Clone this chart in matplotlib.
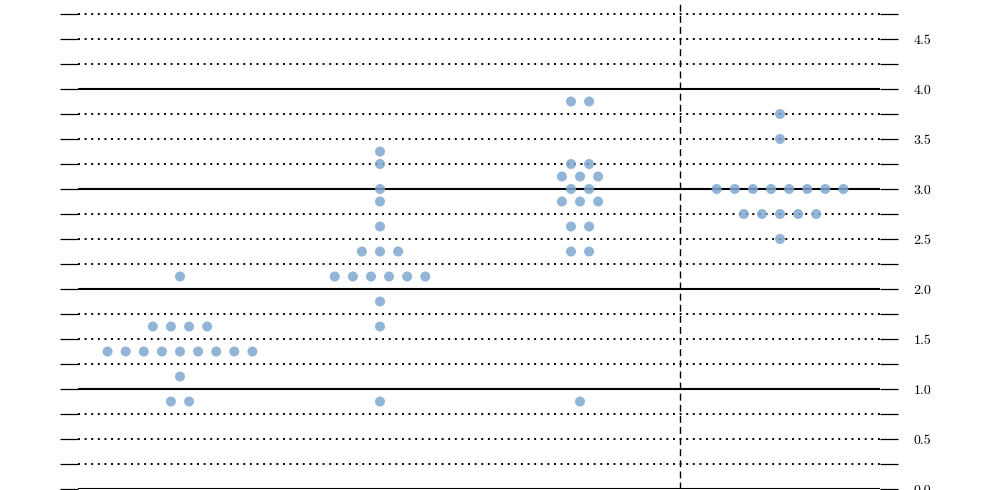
import numpy as np
import matplotlib.pyplot as plt

plt.rcParams['font.family'] = ['cmr10', 'DejaVu Serif']
plt.rcParams['axes.formatter.use_mathtext'] = True

# dot plot: one column per period, each entry is (rate, number of dots)
col_x = [0.5, 1.5, 2.5, 3.5]
col_rates = [
    [0.875, 1.125, 1.375, 1.625, 2.125],
    [0.875, 1.625, 1.875, 2.125, 2.375, 2.625, 2.875, 3.0, 3.25, 3.375],
    [0.875, 2.375, 2.625, 2.875, 3.0, 3.125, 3.25, 3.875],
    [2.5, 2.75, 3.0, 3.5, 3.75],
]
col_counts = [
    [2, 1, 9, 4, 1],
    [1, 1, 1, 6, 3, 1, 1, 1, 1, 1],
    [1, 2, 2, 3, 2, 3, 2, 2],
    [1, 5, 8, 1, 1],
]
divider_x = 3.0

fig = plt.figure(figsize=(9.81, 4.9), dpi=100)
ax = fig.add_axes([0.0795, 0.002, 0.8176, 0.998])

# horizontal guide lines every 0.25, solid on whole numbers
levels = np.arange(0, 4.76, 0.25)
for lv in levels:
    if lv % 1 == 0:
        ax.axhline(lv, color='black', lw=1.5, zorder=1)
    else:
        ax.axhline(lv, color='black', lw=1.4, ls=(0, (1, 2.4)), zorder=1)

ax.axvline(divider_x, color='black', lw=1.0, ls=(0, (5, 3)), zorder=1)

step = 0.0905
for cx, rates, counts in zip(col_x, col_rates, col_counts):
    for r, n in zip(rates, counts):
        xs = cx + (np.arange(n) - (n - 1) / 2) * step
        ax.scatter(xs, [r] * n, s=52, color='#7fa7cf', alpha=0.85,
                   edgecolors='none', zorder=3)

ax.set_xlim(-0.01, 4)
ax.set_ylim(0, 4.89)
ax.set_xticks([])
ax.set_yticks(levels)
ax.set_yticklabels([f'{v:.1f}' if (v * 2) % 1 == 0 else '' for v in levels])
ax.tick_params(axis='y', which='both', left=True, right=True,
               labelleft=False, labelright=True, direction='out',
               length=13, width=0.9, pad=11, labelsize=10)
for sp in ax.spines.values():
    sp.set_visible(False)

fig.savefig('out.png', dpi=100)
